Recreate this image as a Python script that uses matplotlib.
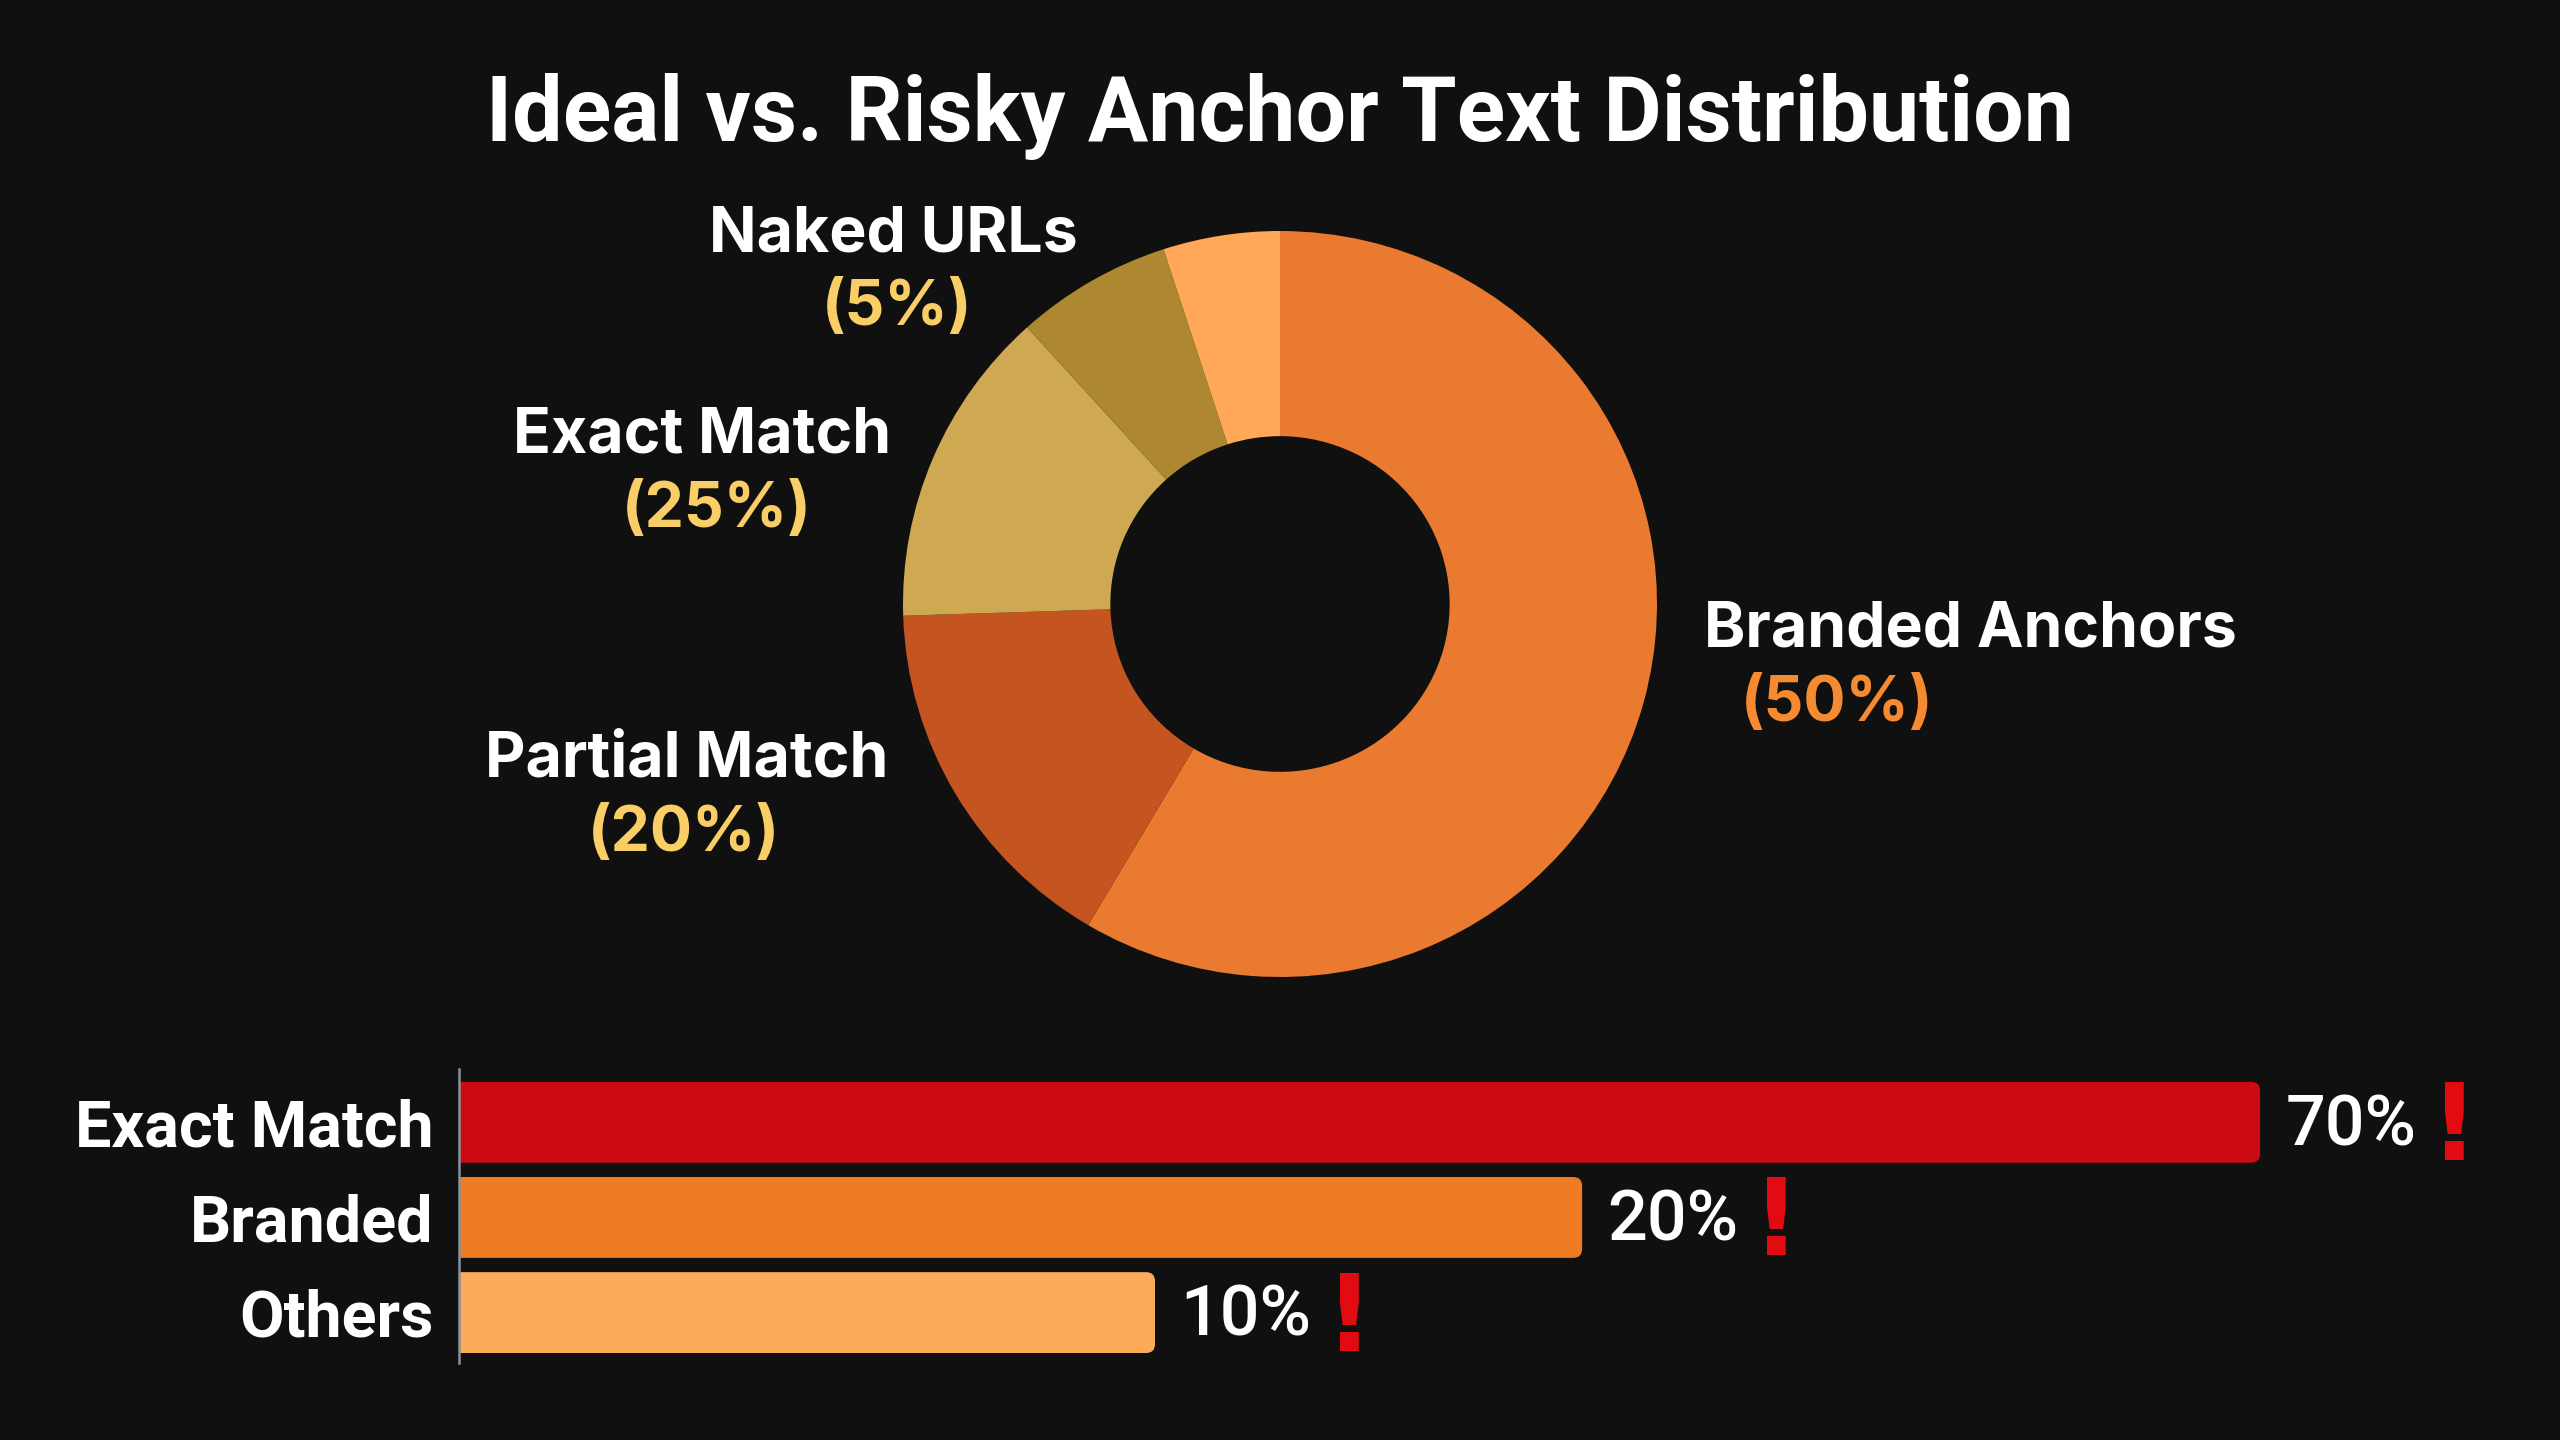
import matplotlib
matplotlib.use('Agg')
import matplotlib.pyplot as plt
from matplotlib.patches import FancyBboxPatch

# donut - wedge sizes as they are drawn in the picture, labels as they are printed
wedge_shares = [58.5, 16.0, 13.8, 6.7, 5.0]
wedge_colors = ['#E97A30', '#C45520', '#CFA852', '#AE8830', '#FFA858']
donut_names = ['Branded Anchors', 'Partial Match', 'Exact Match', 'Naked URLs']
donut_pcts = ['(50%)', '(20%)', '(25%)', '(5%)']

# bars - lengths, the printed percentages do not scale with them
bar_names = ['Exact Match', 'Branded', 'Others']
bar_lengths = [70.0, 43.65, 27.05]
bar_pcts = ['70%', '20%', '10%']
bar_colors = ['#CC0A12', '#EF7C24', '#FDAB58']

BG = '#101010'
W, H = 2560, 1440
plt.rcParams['font.family'] = ['Inter', 'DejaVu Sans']

fig = plt.figure(figsize=(W / 100, H / 100), dpi=100, facecolor=BG)


def put(x, y, s, **kw):
    # x, y in picture pixels
    return fig.text(x / W, 1 - y / H, s, va='center', **kw)


put(1280, 116, 'Ideal vs. Risky Anchor Text Distribution', ha='center',
    color='white', fontsize=64.5, fontweight='bold', family=['Roboto', 'DejaVu Sans'])

# Donut
cx, cy, half = 1280, 604, 385
ax = fig.add_axes([(cx - half) / W, 1 - (cy + half) / H, 2 * half / W, 2 * half / H])
ax.pie(wedge_shares, colors=wedge_colors, startangle=90, counterclock=False,
       radius=1, wedgeprops={'width': 0.55, 'linewidth': 0})
ax.set_aspect('auto')
ax.set_xlim(-half / 377, half / 377)
ax.set_ylim(-half / 373, half / 373)
ax.axis('off')

name_pos = [(1970, 630), (687, 760), (702, 436), (893, 235)]
pct_pos = [(1837, 704), (684, 834), (717, 510), (897, 309)]
pct_colors = ['#F58A30', '#F9CE66', '#F9CE66', '#F9CE66']
for name, pct, np_, pp, c in zip(donut_names, donut_pcts, name_pos, pct_pos, pct_colors):
    put(np_[0], np_[1], name, ha='center', color='white', fontsize=45, fontweight='bold')
    put(pp[0], pp[1], pct, ha='center', color=c, fontsize=45, fontweight='bold')

# Bars
x0, px_per_unit = 459, 25.73
ax2 = fig.add_axes([x0 / W, 1 - 1363 / H, (W - x0) / W, (1363 - 1069) / H])
ax2.set_facecolor('none')
ax2.set_xlim(0, (W - x0) / px_per_unit)
ax2.set_ylim(2.53, -0.56)
bar_h = 0.85
for i, (length, c) in enumerate(zip(bar_lengths, bar_colors)):
    # starts left of the axis so the clip gives square left corners
    ax2.add_patch(FancyBboxPatch((-2, i - bar_h / 2), length + 2, bar_h,
                                 boxstyle='round,pad=0,rounding_size=0.35',
                                 mutation_aspect=0.27, fc=c, ec='none'))
    ax2.text(length + 0.98, i + 0.04, bar_pcts[i], va='center', ha='left', color='white',
             fontsize=50.5, fontweight='medium', family=['Roboto', 'DejaVu Sans'])
    ax2.text(length + 7.55, i + 0.09, '!', va='center', ha='center', color='#E30B12',
             fontsize=77, fontweight='bold', family=['DejaVu Sans'])

ax2.set_yticks(range(len(bar_names)))
ax2.set_yticklabels(bar_names, color='white', fontsize=46.5, fontweight='bold',
                    family=['Roboto', 'DejaVu Sans'], va='center_baseline')
ax2.tick_params(axis='y', length=0, pad=18)
ax2.set_xticks([])
for side in ['top', 'right', 'bottom']:
    ax2.spines[side].set_visible(False)
ax2.spines['left'].set_color('#8a9299')
ax2.spines['left'].set_linewidth(1.8)

fig.savefig('out.png', dpi=100, facecolor=BG)
